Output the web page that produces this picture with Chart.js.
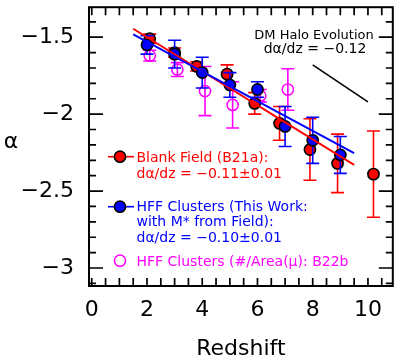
<!DOCTYPE html>
<html><head><meta charset="utf-8">
<script src="https://cdn.jsdelivr.net/npm/chart.js@4.4.1/dist/chart.umd.min.js"></script>
<style>html,body{margin:0;padding:0;background:#fff;} canvas{display:block;}</style>
</head><body>
<canvas id="c" width="400" height="357"></canvas>
<script>
// Blank field (B21a)
const blankZ = [2.1, 3.0, 3.8, 4.9, 5.9, 6.8, 7.9, 8.9, 10.2];
const blankAlpha = [-1.51, -1.60, -1.69, -1.74, -1.93, -2.06, -2.23, -2.32, -2.39];
const blankErr = [0.03, 0.03, 0.03, 0.06, 0.07, 0.11, 0.20, 0.19, 0.28];
// HFF clusters (this work)
const hffZ = [2, 3, 4, 5, 6, 7, 8, 9];
const hffAlpha = [-1.55, -1.61, -1.73, -1.81, -1.84, -2.08, -2.17, -2.265];
const hffErr = [0.06, 0.09, 0.10, 0.08, 0.05, 0.13, 0.15, 0.12];
// HFF clusters (B22b)
const b22bZ = [2.1, 3.1, 4.1, 5.1, 6.1, 7.1];
const b22bAlpha = [-1.62, -1.71, -1.85, -1.94, -1.88, -1.84];
const b22bErr = [0.035, 0.045, 0.16, 0.15, 0.04, 0.135];
// fit lines
const fitZ = [1.5, 9.5];
const blankFit = [-1.445, -2.33];
const hffFit = [-1.482, -2.254];
// DM halo evolution slope
const dmZ = [8.0, 10.0];
const dmAlpha = [-1.68, -1.92];
// ticks
const xTickVals = [0, 2, 4, 6, 8, 10];
const yTickVals = [-3, -2.5, -2, -1.5];

const FONT = "'DejaVu Sans'";
const pts = (xs, ys) => xs.map((x, i) => ({x: x, y: ys[i]}));
const fmt = v => (v < 0 ? '\u2212' : '') + Math.abs(v);

const errPlugin = {
  id: 'errbars',
  beforeDatasetDraw(chart, args) {
    const ds = chart.data.datasets[args.index];
    if (!ds.errs) return;
    const xs = chart.scales.x, ys = chart.scales.y, c = chart.ctx;
    c.save();
    c.strokeStyle = ds.errColor; c.lineWidth = 1.6;
    ds.data.forEach((p, i) => {
      const e = ds.errs[i];
      const px = xs.getPixelForValue(p.x);
      const y1 = ys.getPixelForValue(p.y + e), y2 = ys.getPixelForValue(p.y - e);
      c.beginPath();
      c.moveTo(px, y1); c.lineTo(px, y2);
      c.moveTo(px - 6.5, y1); c.lineTo(px + 6.5, y1);
      c.moveTo(px - 6.5, y2); c.lineTo(px + 6.5, y2);
      c.stroke();
    });
    c.restore();
  }
};

const framePlugin = {
  id: 'frame',
  beforeDatasetsDraw(chart) {
    const c = chart.ctx, a = chart.chartArea, xs = chart.scales.x, ys = chart.scales.y;
    c.save();
    c.strokeStyle = '#000';
    c.lineWidth = 1.7;
    c.beginPath();
    for (let k = -31; k <= -14; k++) {
      const v = k / 10;
      const major = (k % 5 === 0);
      const L = major ? 14 : 7;
      const py = ys.getPixelForValue(v);
      c.moveTo(a.left, py); c.lineTo(a.left + L, py);
      c.moveTo(a.right, py); c.lineTo(a.right - L, py);
    }
    for (let k = 0; k <= 21; k++) {
      const v = k / 2;
      const px = xs.getPixelForValue(v);
      const L = 8;
      c.moveTo(px, a.bottom); c.lineTo(px, a.bottom - L);
      c.moveTo(px, a.top); c.lineTo(px, a.top + L);
    }
    c.stroke();
    c.lineWidth = 2;
    c.strokeRect(a.left, a.top, a.right - a.left, a.bottom - a.top);
    c.restore();
  },
  afterDraw(chart) {
    const c = chart.ctx, a = chart.chartArea;
    c.save();
    // axis titles
    c.fillStyle = '#000';
    c.font = '22px ' + FONT;
    c.textAlign = 'center';
    c.textBaseline = 'alphabetic';
    c.fillText('Redshift', (a.left + a.right) / 2, 355);
    c.fillText('\u03B1', 11, 148);
    // DM halo annotation
    c.font = '13px ' + FONT;
    c.fillText('DM Halo Evolution', 314, 38.5);
    c.font = '14px ' + FONT;
    c.fillText('d\u03B1/dz = \u22120.12', 315, 52.5);
    // legend
    c.textAlign = 'left';
    const tx = 136.5;
    c.font = '14px ' + FONT;
    // red
    c.strokeStyle = '#ff0000'; c.lineWidth = 1.6;
    c.beginPath(); c.moveTo(108, 156.7); c.lineTo(134, 156.7); c.stroke();
    c.beginPath(); c.arc(120, 156.7, 5.6, 0, Math.PI * 2);
    c.fillStyle = '#ff0000'; c.fill(); c.strokeStyle = '#000'; c.stroke();
    c.fillStyle = '#ff0000';
    c.fillText('Blank Field (B21a):', tx, 161.5);
    c.fillText('d\u03B1/dz = \u22120.11\u00B10.01', tx, 177.5);
    // blue
    c.strokeStyle = '#0000ff';
    c.beginPath(); c.moveTo(108, 206.7); c.lineTo(134, 206.7); c.stroke();
    c.beginPath(); c.arc(120, 206.7, 5.6, 0, Math.PI * 2);
    c.fillStyle = '#0000ff'; c.fill(); c.strokeStyle = '#000'; c.stroke();
    c.fillStyle = '#0000ff';
    c.fillText('HFF Clusters (This Work:', tx, 210.5);
    c.fillText('with M* from Field):', tx, 226);
    c.fillText('d\u03B1/dz = \u22120.10\u00B10.01', tx, 241.5);
    // magenta
    c.beginPath(); c.arc(120, 260.7, 5.6, 0, Math.PI * 2);
    c.strokeStyle = '#ff00ff'; c.lineWidth = 1.5; c.stroke();
    c.fillStyle = '#ff00ff';
    c.fillText('HFF Clusters (#/Area(\u03BC): B22b', tx, 265.5);
    c.restore();
  }
};

new Chart(document.getElementById('c'), {
  type: 'scatter',
  data: {
    datasets: [
      {label: 'HFF fit', data: pts(fitZ, hffFit), showLine: true, borderColor: '#0000ff', borderWidth: 2, pointRadius: 0, order: 0},
      {label: 'Blank fit', data: pts(fitZ, blankFit), showLine: true, borderColor: '#ff0000', borderWidth: 2, pointRadius: 0, order: 0},
      {label: 'DM Halo', data: pts(dmZ, dmAlpha), showLine: true, borderColor: '#000000', borderWidth: 1.6, pointRadius: 0, order: 0},
      {label: 'HFF Clusters (This Work)', data: pts(hffZ, hffAlpha), errs: hffErr, errColor: '#0000ff',
       pointRadius: 5.6, borderWidth: 1.6, borderColor: '#000', backgroundColor: '#0000ff', order: 1},
      {label: 'Blank Field (B21a)', data: pts(blankZ, blankAlpha), errs: blankErr, errColor: '#ff0000',
       pointRadius: 5.6, borderWidth: 1.6, borderColor: '#000', backgroundColor: '#ff0000', order: 2},
      {label: 'HFF Clusters (B22b)', data: pts(b22bZ, b22bAlpha), errs: b22bErr, errColor: '#ff00ff',
       pointRadius: 5.6, borderWidth: 1.5, borderColor: '#ff00ff', backgroundColor: 'rgba(0,0,0,0)', order: 3}
    ]
  },
  options: {
    responsive: false, animation: false, devicePixelRatio: 1,
    layout: {padding: {top: 2, right: 3, left: 0, bottom: 0}},
    plugins: {legend: {display: false}, tooltip: {enabled: false}},
    scales: {
      x: {
        type: 'linear', min: -0.1, max: 10.9,
        grid: {display: false, drawTicks: false}, border: {display: false},
        afterFit(s) { s.height = 71; s.paddingLeft = 0; s.paddingRight = 0; },
        afterBuildTicks(s) { s.ticks = xTickVals.map(v => ({value: v})); },
        ticks: {font: {family: FONT, size: 22}, color: '#000', padding: 11, maxRotation: 0, autoSkip: false, callback: fmt}
      },
      y: {
        type: 'linear', min: -3.117, max: -1.305,
        grid: {display: false, drawTicks: false}, border: {display: false},
        afterFit(s) { s.width = 89; s.paddingTop = 0; s.paddingBottom = 0; },
        afterBuildTicks(s) { s.ticks = yTickVals.map(v => ({value: v})); },
        ticks: {font: {family: FONT, size: 22}, color: '#000', padding: 15, autoSkip: false, callback: fmt}
      }
    }
  },
  plugins: [errPlugin, framePlugin]
});
</script>
</body></html>
